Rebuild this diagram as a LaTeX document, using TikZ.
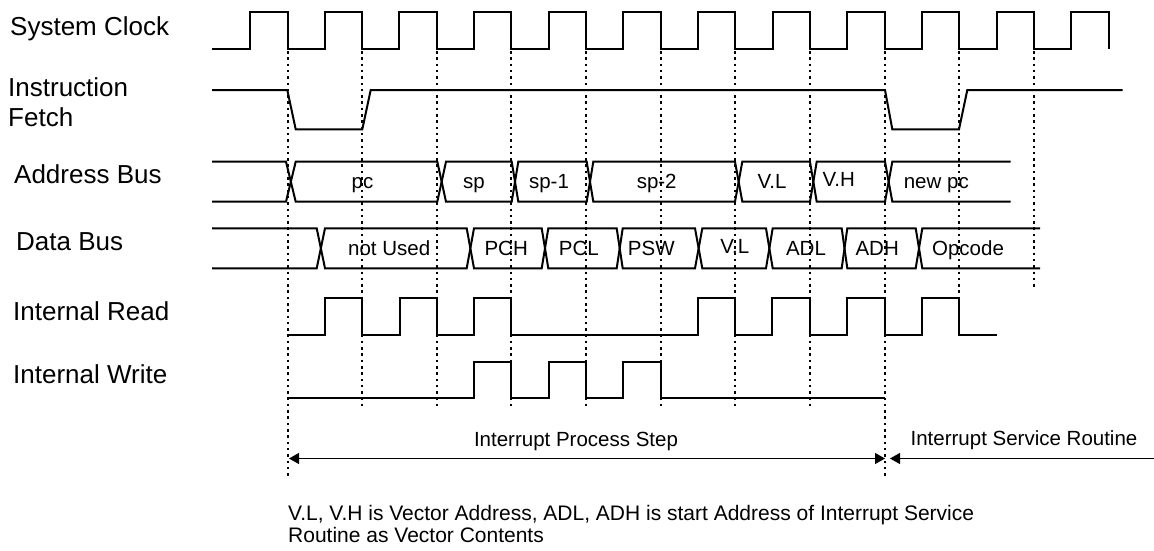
\documentclass[tikz,border=0pt]{standalone}
\usepackage{fontspec}
\setmainfont{Liberation Sans}
\usetikzlibrary{arrows.meta}
\tikzset{
  sig/.style={line width=2pt, line join=miter},
  guide/.style={line width=2pt, dash pattern=on 2.5pt off 3.8pt},
  sigtxt/.style={font=\fontsize{26}{31}\selectfont, anchor=base west, inner sep=0pt},
  bustxt/.style={font=\fontsize{20.5}{24}\selectfont, anchor=base, inner sep=0pt},
  notetxt/.style={font=\fontsize{20.5}{24}\selectfont, anchor=base, inner sep=0pt},
  foottxt/.style={font=\fontsize{21}{24}\selectfont, anchor=base west, inner sep=0pt},
  span/.style={line width=1pt, {Triangle[length=10pt,width=11pt]}-{Triangle[length=10pt,width=11pt]}},
  spanr/.style={line width=1pt, {Triangle[length=10pt,width=11pt]}-}
}
\begin{document}
\begin{tikzpicture}[x=1pt,y=-1pt]
\useasboundingbox[fill=white] (0,0) rectangle (1154,550);

% signal names
\node[sigtxt] (lclk) at (10,35) {System Clock};
\node[sigtxt] (lif1) at (8,96) {Instruction};
\node[sigtxt] (lif2) at (8,126.7) {Fetch};
\node[sigtxt] (lab) at (14,183.3) {Address Bus};
\node[sigtxt] (ldb) at (16,250.7) {Data Bus};
\node[sigtxt] (lrd) at (13,320) {Internal Read};
\node[sigtxt] (lwr) at (13,383.3) {Internal Write};

% dotted guide lines at falling clock edges
\foreach \k/\e in {0/477,1/409,2/409,3/409,4/409,5/409,6/409,7/409,8/478,9/296,10/289}{
  \draw[guide] ({287.5+74.65*\k},51) -- ({287.5+74.65*\k},\e);
}

% system clock
\draw[sig] (212,49) \foreach \k in {0,...,11}{
  -- ({250+74.65*\k},49) -- ({250+74.65*\k},12) -- ({287.5+74.65*\k},12) -- ({287.5+74.65*\k},49)};

% instruction fetch
\draw[sig] (212,90) -- (287.3,90) -- (295.7,129.3) -- (362.3,129.3) -- (370.7,90)
  -- (885,90) -- (892.3,129.3) -- (959,129.3) -- (967.3,90) -- (1122.7,90);

% address bus
\def\at{161.7}\def\ab{201.7}
\draw[sig] (212,\at) -- (286,\at) -- (295.7,\ab) -- (437.3,\ab) -- (446,\at) -- (511.7,\at) -- (518.3,\ab)
  -- (586.7,\ab) -- (593.3,\at) -- (735,\at) -- (742.3,\ab) -- (810,\ab) -- (816.7,\at) -- (885,\at) -- (892.3,\ab) -- (1010.7,\ab);
\draw[sig] (212,\ab) -- (286,\ab) -- (295.7,\at) -- (437.3,\at) -- (446,\ab) -- (511.7,\ab) -- (518.3,\at)
  -- (586.7,\at) -- (593.3,\ab) -- (735,\ab) -- (742.3,\at) -- (810,\at) -- (816.7,\ab) -- (885,\ab) -- (892.3,\at) -- (1010.7,\at);
\node[bustxt] (apc) at (362.5,188.3) {pc};
\node[bustxt] (asp) at (474,188.3) {sp};
\node[bustxt] (asp1) at (549,188.3) {sp-1};
\node[bustxt] (asp2) at (656.7,188.3) {sp-2};
\node[bustxt] (avl) at (772,188.3) {V.L};
\node[bustxt] (avh) at (838.7,186.7) {V.H};
\node[bustxt] (anpc) at (936.3,188.3) {new pc};

% data bus
\def\dt{228.3}\def\db{268.3}
\draw[sig] (212,\dt) -- (316.7,\dt) -- (325,\db) -- (466.7,\db) -- (474,\dt) -- (541.7,\dt) -- (548.3,\db)
  -- (616.7,\db) -- (622.7,\dt) -- (695,\dt) -- (702.3,\db) -- (766,\db) -- (772.7,\dt) -- (841.7,\dt) -- (847.3,\db)
  -- (915.7,\db) -- (922.3,\dt) -- (1040,\dt);
\draw[sig] (212,\db) -- (316.7,\db) -- (325,\dt) -- (466.7,\dt) -- (474,\db) -- (541.7,\db) -- (548.3,\dt)
  -- (616.7,\dt) -- (622.7,\db) -- (695,\db) -- (702.3,\dt) -- (766,\dt) -- (772.7,\db) -- (841.7,\db) -- (847.3,\dt)
  -- (915.7,\dt) -- (922.3,\db) -- (1040,\db);
\node[bustxt] (dnu) at (389.2,255) {not Used};
\node[bustxt] (dpch) at (506.2,255) {PCH};
\node[bustxt] (dpcl) at (578.8,255) {PCL};
\node[bustxt] (dpsw) at (651.3,255) {PSW};
\node[bustxt] (dvl) at (734.7,253.3) {V.L};
\node[bustxt] (dadl) at (806,255) {ADL};
\node[bustxt] (dadh) at (877.2,255) {ADH};
\node[bustxt] (dop) at (968,255) {Opcode};

% internal read
\def\rh{298.3}\def\rl{335}
\draw[sig] (286.7,\rl) -- (325,\rl) -- (325,\rh) -- (362,\rh) -- (362,\rl) -- (400,\rl) -- (400,\rh) -- (437,\rh) -- (437,\rl)
  -- (474,\rl) -- (474,\rh) -- (511,\rh) -- (511,\rl) -- (697.7,\rl) -- (697.7,\rh) -- (735,\rh) -- (735,\rl)
  -- (772.3,\rl) -- (772.3,\rh) -- (810,\rh) -- (810,\rl) -- (847,\rl) -- (847,\rh) -- (885,\rh) -- (885,\rl)
  -- (922,\rl) -- (922,\rh) -- (959,\rh) -- (959,\rl) -- (997.3,\rl);

% internal write
\def\wh{361.7}\def\wl{398.3}
\draw[sig] (287,\wl) -- (474,\wl) -- (474,\wh) -- (511,\wh) -- (511,\wl) -- (549,\wl) -- (549,\wh) -- (586,\wh) -- (586,\wl)
  -- (623.3,\wl) -- (623.3,\wh) -- (661,\wh) -- (661,\wl) -- (885,\wl);

% spans
\coordinate (s0) at (289,458.5);
\coordinate (s1) at (885,458.5);
\coordinate (s2) at (890,458.5);
\coordinate (s3) at (1154,458.5);
\draw[span] (s0) -- (s1);
\draw[spanr] (s2) -- (s3);
\node[notetxt] (tips) at (576,446.7) {Interrupt Process Step};
\node[notetxt] (tisr) at (1024,445) {Interrupt Service Routine};

% footnote
\node[foottxt] (note1) at (288,520) {V.L, V.H is Vector Address, ADL, ADH is start Address of Interrupt Service};
\node[foottxt] (note2) at (288,542.5) {Routine as Vector Contents};
\end{tikzpicture}
\end{document}
